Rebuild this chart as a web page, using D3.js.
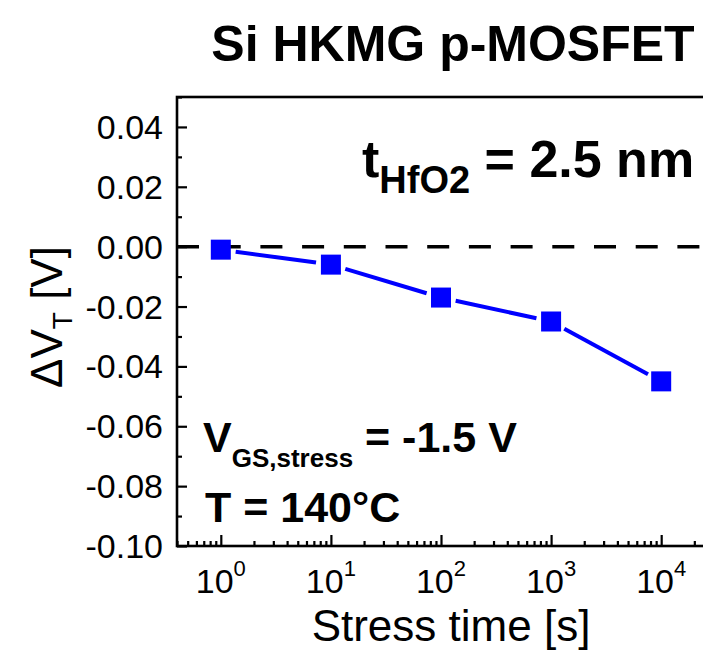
<!DOCTYPE html>
<html>
<head>
<meta charset="utf-8">
<script src="https://cdn.jsdelivr.net/npm/d3@7"></script>
<style>
  body { margin: 0; background: #fff; }
  svg text { font-family: "Liberation Sans", Arial, sans-serif; fill: #000; }
</style>
</head>
<body>
<div id="chart"></div>
<script>
// data
const stressTime = [1, 10, 100, 1000, 10000];
const deltaVT = [-0.001, -0.006, -0.017, -0.025, -0.045];

const yMajor = [-0.10, -0.08, -0.06, -0.04, -0.02, 0.00, 0.02, 0.04];
const yMinor = [-0.09, -0.07, -0.05, -0.03, -0.01, 0.01, 0.03, 0.05];
const xMajor = [1, 10, 100, 1000, 10000];
const xExp = ["0", "1", "2", "3", "4"];

const width = 703, height = 651;

const svg = d3.select("#chart")
  .append("svg")
  .attr("width", width)
  .attr("height", height);

const x = d3.scaleLog().domain([0.4, 25000]).range([177, 705]);
const y = d3.scaleLinear().domain([-0.10, 0.05]).range([546, 97]);

// minor log ticks 2..9 in each decade
const xMinor = [];
for (let k = -1; k <= 4; k++) {
  for (let d = 2; d <= 9; d++) {
    const v = d * Math.pow(10, k);
    if (v >= 0.4 && v <= 25000) xMinor.push(v);
  }
}

// ticks (inward)
svg.append("g")
  .attr("transform", `translate(0,${y(-0.10)})`)
  .call(d3.axisBottom(x).tickValues(xMajor).tickSize(-11).tickSizeOuter(0).tickFormat(""))
  .call(g => g.select(".domain").remove())
  .selectAll("line").attr("stroke-width", 2.2);
svg.append("g")
  .attr("transform", `translate(0,${y(-0.10)})`)
  .call(d3.axisBottom(x).tickValues(xMinor).tickSize(-5).tickSizeOuter(0).tickFormat(""))
  .call(g => g.select(".domain").remove())
  .selectAll("line").attr("stroke-width", 2.2);

svg.append("g")
  .attr("transform", `translate(${x(0.4)},0)`)
  .call(d3.axisLeft(y).tickValues(yMajor).tickSize(-10).tickSizeOuter(0).tickFormat(""))
  .call(g => g.select(".domain").remove())
  .selectAll("line").attr("stroke-width", 2.2);
svg.append("g")
  .attr("transform", `translate(${x(0.4)},0)`)
  .call(d3.axisLeft(y).tickValues(yMinor).tickSize(-5).tickSizeOuter(0).tickFormat(""))
  .call(g => g.select(".domain").remove())
  .selectAll("line").attr("stroke-width", 2.2);

// frame
svg.append("rect")
  .attr("x", x(0.4))
  .attr("y", y(0.05))
  .attr("width", x(25000) - x(0.4))
  .attr("height", y(-0.10) - y(0.05))
  .attr("fill", "none")
  .attr("stroke", "#000")
  .attr("stroke-width", 2.6);

// y tick labels
svg.append("g")
  .selectAll("text")
  .data(yMajor)
  .join("text")
  .attr("x", 163)
  .attr("y", d => y(d) + 12)
  .attr("text-anchor", "end")
  .attr("font-size", 34)
  .text(d => d3.format(".2f")(d).replace("−", "-"));

// x tick labels with superscripts
const xl = svg.append("g")
  .selectAll("text")
  .data(xMajor)
  .join("text")
  .attr("x", d => x(d))
  .attr("y", 593)
  .attr("text-anchor", "middle")
  .attr("font-size", 34);
xl.append("tspan").text("10");
xl.append("tspan").attr("font-size", 22).attr("dy", -17).text((d, i) => xExp[i]);

// zero reference line
svg.append("line")
  .attr("x1", x(0.4))
  .attr("x2", x(25000))
  .attr("y1", y(0))
  .attr("y2", y(0))
  .attr("stroke", "#000")
  .attr("stroke-width", 3.5)
  .attr("stroke-dasharray", "22,19.7");

// data line, broken near the markers
const pts = stressTime.map((t, i) => [x(t), y(deltaVT[i])]);
const gap = 15;
const segs = d3.pairs(pts).map(([a, b]) => {
  const dx = b[0] - a[0], dy = b[1] - a[1];
  const len = Math.hypot(dx, dy);
  const ux = dx / len, uy = dy / len;
  return [a[0] + ux * gap, a[1] + uy * gap, b[0] - ux * gap, b[1] - uy * gap];
});
svg.append("g")
  .selectAll("line")
  .data(segs)
  .join("line")
  .attr("x1", d => d[0]).attr("y1", d => d[1])
  .attr("x2", d => d[2]).attr("y2", d => d[3])
  .attr("stroke", "#0000ff")
  .attr("stroke-width", 4);

svg.append("g")
  .selectAll("rect")
  .data(pts)
  .join("rect")
  .attr("x", d => d[0] - 10)
  .attr("y", d => d[1] - 10)
  .attr("width", 20)
  .attr("height", 20)
  .attr("fill", "#0000ff");

// title
svg.append("text")
  .attr("x", 453)
  .attr("y", 61)
  .attr("text-anchor", "middle")
  .attr("font-size", 50)
  .attr("font-weight", "bold")
  .text("Si HKMG p-MOSFET");

// annotations
const t1 = svg.append("text")
  .attr("x", 362)
  .attr("y", 177)
  .attr("font-size", 52)
  .attr("font-weight", "bold");
t1.append("tspan").text("t");
t1.append("tspan").attr("font-size", 38).attr("dy", 16).text("HfO2");
t1.append("tspan").attr("dy", -16).text(" = 2.5 nm");

const t2 = svg.append("text")
  .attr("x", 203)
  .attr("y", 452)
  .attr("font-size", 43)
  .attr("font-weight", "bold");
t2.append("tspan").text("V");
t2.append("tspan").attr("font-size", 26).attr("dy", 15).text("GS,stress");
t2.append("tspan").attr("dy", -15).text(" = -1.5 V");

svg.append("text")
  .attr("x", 205)
  .attr("y", 522)
  .attr("font-size", 43)
  .attr("font-weight", "bold")
  .text("T = 140\u00B0C");

// axis titles
svg.append("text")
  .attr("x", 451)
  .attr("y", 641)
  .attr("text-anchor", "middle")
  .attr("font-size", 44)
  .text("Stress time [s]");

const yl = svg.append("text")
  .attr("transform", "translate(62,317) rotate(-90)")
  .attr("text-anchor", "middle")
  .attr("font-size", 44);
yl.append("tspan").text("\u0394V");
yl.append("tspan").attr("font-size", 28).attr("dy", 10).text("T");
yl.append("tspan").attr("dy", -10).text(" [V]");
</script>
</body>
</html>
